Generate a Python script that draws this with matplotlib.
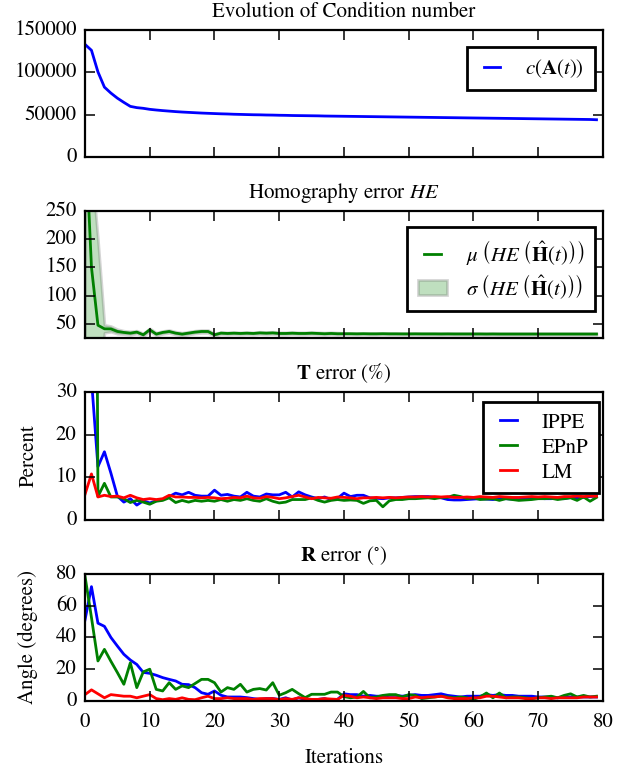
import numpy as np
import matplotlib
matplotlib.use('Agg')
import matplotlib.pyplot as plt

# values, one per iteration (0..79)
cond_number = [133000, 126000, 100500, 82500, 75500, 69500, 64500, 59800, 58300, 57500,
               56300, 55500, 54800, 54200, 53600, 53100, 52700, 52300, 51900, 51600,
               51300, 51000, 50800, 50500, 50300, 50100, 49900, 49800, 49600, 49500,
               49300, 49200, 49000, 48900, 48800, 48700, 48600, 48400, 48300, 48200,
               48100, 48000, 47900, 47800, 47700, 47600, 47500, 47400, 47300, 47200,
               47100, 47000, 46900, 46800, 46700, 46600, 46500, 46400, 46300, 46200,
               46100, 46000, 45900, 45800, 45700, 45600, 45500, 45400, 45300, 45200,
               45100, 45000, 44900, 44800, 44700, 44600, 44500, 44400, 44300, 44000]

he_mean = [400, 150, 48, 41.7, 41.5, 37, 35.3, 34.1, 35.9, 31.2,
           40, 32.4, 35.3, 37, 34.1, 32.4, 34.1, 35.9, 37, 37,
           31.2, 34.1, 33.5, 34, 33.5, 34, 33.5, 34.5, 34, 34.5,
           33.5, 33.5, 34, 33.5, 33.5, 34, 33.5, 33, 33.5, 33,
           33, 33, 32.8, 33, 32.8, 32.8, 33, 32.8, 32.8, 32.7,
           32.7, 32.8, 32.7, 32.7, 32.7, 32.6, 32.7, 32.6, 32.6, 32.6,
           32.6, 32.6, 32.5, 32.6, 32.5, 32.5, 32.5, 32.5, 32.5, 32.5,
           32.5, 32.5, 32.5, 32.5, 32.5, 32.5, 32.5, 32.5, 32.5, 32.5]
he_std = [400, 180, 150, 7, 5, 4, 3, 3, 2.5, 2.5,
          2.5, 2.5, 2.5, 2.5, 2.5, 2.5, 2.5, 2.5, 2.5, 2.5,
          2, 2, 2, 2, 2, 2, 2, 2, 2, 2,
          2, 2, 2, 2, 2, 2, 2, 2, 2, 2,
          1.5, 1.5, 1.5, 1.5, 1.5, 1.5, 1.5, 1.5, 1.5, 1.5,
          1.5, 1.5, 1.5, 1.5, 1.5, 1.5, 1.5, 1.5, 1.5, 1.5,
          1.5, 1.5, 1.5, 1.5, 1.5, 1.5, 1.5, 1.5, 1.5, 1.5,
          1.5, 1.5, 1.5, 1.5, 1.5, 1.5, 1.5, 1.5, 1.5, 1.5]

t_ippe = [60, 33, 12.5, 16, 11, 5.6, 4.2, 5.0, 3.5, 4.5,
          4.0, 4.5, 4.8, 5.5, 6.3, 5.9, 6.5, 5.8, 5.6, 5.6,
          7.0, 5.8, 6.0, 5.6, 5.4, 6.5, 5.6, 5.4, 6.1, 5.9,
          5.9, 6.5, 5.4, 6.6, 5.9, 5.4, 5.0, 5.4, 4.8, 5.1,
          6.3, 5.5, 5.8, 5.8, 5.2, 5.1, 5.0, 5.2, 5.2, 5.3,
          5.4, 5.5, 5.5, 5.5, 5.3, 5.2, 4.8, 4.7, 4.7, 4.8,
          4.9, 5.0, 4.9, 4.8, 5.0, 5.0, 4.9, 4.8, 5.0, 5.1,
          5.1, 5.0, 5.0, 5.1, 5.0, 5.3, 5.2, 5.3, 5.5, 5.6]
t_epnp = [350, 300, 5.5, 8.6, 5.4, 5.4, 5.0, 4.1, 4.6, 4.2,
          3.7, 4.4, 4.6, 5.2, 4.1, 4.6, 4.2, 4.6, 4.4, 4.6,
          4.4, 4.8, 4.4, 4.8, 4.6, 5.0, 4.6, 4.4, 5.0, 4.4,
          4.0, 4.2, 4.8, 4.8, 4.8, 5.2, 4.6, 4.2, 4.6, 4.8,
          4.6, 4.7, 4.6, 3.9, 4.5, 4.6, 3.1, 4.5, 4.8, 4.8,
          5.0, 5.0, 5.1, 5.2, 5.0, 5.3, 5.3, 5.8, 5.5, 5.0,
          5.2, 4.8, 4.9, 5.0, 4.6, 5.0, 4.8, 4.6, 4.7, 4.8,
          5.0, 5.0, 5.1, 4.8, 5.0, 5.2, 4.6, 5.4, 4.4, 5.3]
t_lm = [6.0, 10.8, 5.4, 5.8, 5.5, 5.6, 5.2, 5.8, 5.2, 4.8,
        5.0, 4.8, 5.0, 5.8, 5.4, 5.4, 5.3, 5.3, 5.2, 5.3,
        5.2, 5.0, 5.1, 5.3, 5.2, 5.6, 5.2, 5.1, 5.5, 5.3,
        5.0, 5.2, 5.5, 5.8, 5.4, 5.0, 5.3, 5.2, 5.1, 5.4,
        5.3, 5.2, 5.0, 5.2, 5.2, 5.3, 5.2, 5.3, 5.2, 5.3,
        5.4, 5.4, 5.5, 5.4, 5.5, 5.4, 5.5, 5.3, 5.3, 5.4,
        5.3, 5.5, 5.4, 5.3, 5.5, 5.4, 5.3, 5.3, 5.4, 5.5,
        5.4, 5.5, 5.4, 5.3, 5.5, 5.5, 5.6, 5.5, 5.6, 5.6]

r_ippe = [51, 72, 49, 47, 40, 34.6, 29.4, 25.8, 23, 18,
          17.4, 16.2, 14.7, 13.6, 12.6, 10.5, 10.3, 8.4, 5.2, 4.2,
          6.3, 3.6, 2.5, 2.5, 2.5, 2.1, 1.5, 1.0, 1.5, 1.5,
          1.0, 2.0, 0.6, 2.0, 1.0, 0.6, 1.0, 1.5, 0.2, 1.0,
          4.5, 4.0, 4.0, 3.0, 3.5, 3.0, 3.0, 3.5, 3.5, 3.0,
          3.5, 4.0, 3.5, 3.5, 4.0, 4.5, 3.5, 3.0, 2.5, 3.0,
          3.0, 3.0, 4.0, 3.5, 4.0, 3.5, 3.5, 3.0, 3.0, 3.0,
          2.5, 2.5, 2.5, 2.0, 2.5, 2.5, 2.5, 2.5, 2.5, 2.5]
r_epnp = [78.7, 52.5, 25.2, 32.5, 25, 17.9, 10.5, 24, 8.4, 18.3,
          20, 7.3, 6.3, 11.5, 7.3, 9.5, 8.4, 11, 13.6, 13.6,
          11.5, 5.6, 8.4, 7.3, 10.5, 5.6, 7.3, 7.8, 6.9, 11.5,
          3.6, 5.2, 7.3, 4.6, 2.1, 4.2, 4.2, 4.2, 5.6, 5.6,
          2.7, 2.0, 2.5, 6.0, 2.0, 2.5, 3.5, 4.0, 4.0, 2.5,
          4.0, 3.5, 1.5, 2.0, 2.5, 3.0, 2.5, 2.0, 2.5, 2.0,
          1.0, 2.5, 5.0, 2.0, 5.0, 2.0, 2.5, 2.5, 2.0, 1.5,
          2.0, 2.5, 3.0, 2.0, 3.5, 4.5, 2.5, 3.5, 2.5, 3.0]
r_lm = [4, 7, 4.5, 2, 4, 3.5, 3, 3, 2, 3,
        4, 1.5, 0.8, 1.5, 1, 2, 1, 0.8, 2, 3,
        1.5, 1.5, 2, 1.5, 1.5, 1.5, 1, 1.5, 1.5, 1.5,
        0.8, 1.5, 1, 2, 1.5, 1, 1, 1.5, 1.2, 1,
        3.5, 3, 2, 2.5, 2, 1.5, 2, 2, 2, 1.5,
        1.5, 2.5, 2, 2.5, 2.5, 3, 2, 1.5, 1.5, 1.5,
        2, 2, 3, 3, 2.5, 2, 2, 2, 1.5, 1.5,
        2, 2, 1.5, 2, 2, 2, 2, 2.5, 2.5, 2.5]

iters = np.arange(len(cond_number))

plt.style.use('classic')
plt.rcParams['font.family'] = 'serif'
plt.rcParams['font.serif'] = ['STIXGeneral', 'Liberation Serif', 'DejaVu Serif']
plt.rcParams['mathtext.fontset'] = 'stix'
plt.rcParams['font.size'] = 15
plt.rcParams['axes.linewidth'] = 1.6
plt.rcParams['xtick.major.size'] = 7
plt.rcParams['ytick.major.size'] = 7
plt.rcParams['xtick.major.width'] = 1.1
plt.rcParams['ytick.major.width'] = 1.1
plt.rcParams['xtick.major.pad'] = 8
plt.rcParams['ytick.major.pad'] = 6
plt.rcParams['legend.fontsize'] = 15

fig = plt.figure(figsize=(6.31, 7.67), dpi=100, facecolor='white')
left, width = 0.1347, 0.8209
ax1 = fig.add_axes([left, 0.7953, width, 0.1656])
ax2 = fig.add_axes([left, 0.5597, width, 0.1656])
ax3 = fig.add_axes([left, 0.3220, width, 0.1669])
ax4 = fig.add_axes([left, 0.0861, width, 0.1656])

lw = 2.0
leg_kw = dict(handlelength=1.4, handletextpad=0.9, labelspacing=0.25, borderpad=0.5)

ax1.plot(iters, cond_number, 'b', lw=lw, label=r'$c(\mathbf{A}(t))$')
ax1.set_title('Evolution of Condition number', fontsize=15, pad=9)
ax1.set_ylim(0, 150000)
ax1.set_yticks([0, 50000, 100000, 150000])
leg = ax1.legend(loc='upper right', bbox_to_anchor=(1.004, 0.95), **leg_kw)
leg.get_frame().set_linewidth(2)

mean = np.array(he_mean)
std = np.array(he_std)
ax2.plot(iters, mean, 'g', lw=lw,
         label=r'$\mu\;\left(HE\;\left(\hat{\mathbf{H}}(t)\right)\right)$')
ax2.fill_between(iters, mean - std, mean + std, facecolor='g', edgecolor='0.35',
                 alpha=0.25, linewidth=2,
                 label=r'$\sigma\;\left(HE\;\left(\hat{\mathbf{H}}(t)\right)\right)$')
ax2.set_title('Homography error $HE$', fontsize=15, pad=9)
ax2.set_ylim(26, 250)
ax2.set_yticks([50, 100, 150, 200, 250])
leg = ax2.legend(loc='upper right', bbox_to_anchor=(1.004, 0.95), **leg_kw)
leg.get_frame().set_linewidth(2)

ax3.plot(iters, t_ippe, 'b', lw=lw, label='IPPE')
ax3.plot(iters, t_epnp, 'g', lw=lw, label='EPnP')
ax3.plot(iters, t_lm, 'r', lw=lw, label='LM')
ax3.set_title(r'$\mathbf{T}$ error (%)', fontsize=15, pad=9)
ax3.set_ylim(0, 30)
ax3.set_yticks([0, 10, 20, 30])
ax3.set_ylabel('Percent')
leg = ax3.legend(loc='upper right', bbox_to_anchor=(1.012, 1.0), **leg_kw)
leg.get_frame().set_linewidth(2)

ax4.plot(iters, r_ippe, 'b', lw=lw)
ax4.plot(iters, r_epnp, 'g', lw=lw)
ax4.plot(iters, r_lm, 'r', lw=lw)
ax4.set_title(r'$\mathbf{R}$ error ($^{\circ}$)', fontsize=15, pad=9)
ax4.set_ylim(0, 80)
ax4.set_yticks([0, 20, 40, 60, 80])
ax4.set_ylabel('Angle (degrees)')
ax4.set_xlabel('Iterations', labelpad=12)

for ax in (ax1, ax2, ax3, ax4):
    ax.set_xlim(0, 80)
    ax.set_xticks(np.arange(0, 81, 10))
    if ax is not ax4:
        ax.tick_params(labelbottom=False)

ax3.yaxis.set_label_coords(-0.09, 0.5)
ax4.yaxis.set_label_coords(-0.09, 0.5)

fig.savefig('out.png', dpi=100, facecolor='white')
